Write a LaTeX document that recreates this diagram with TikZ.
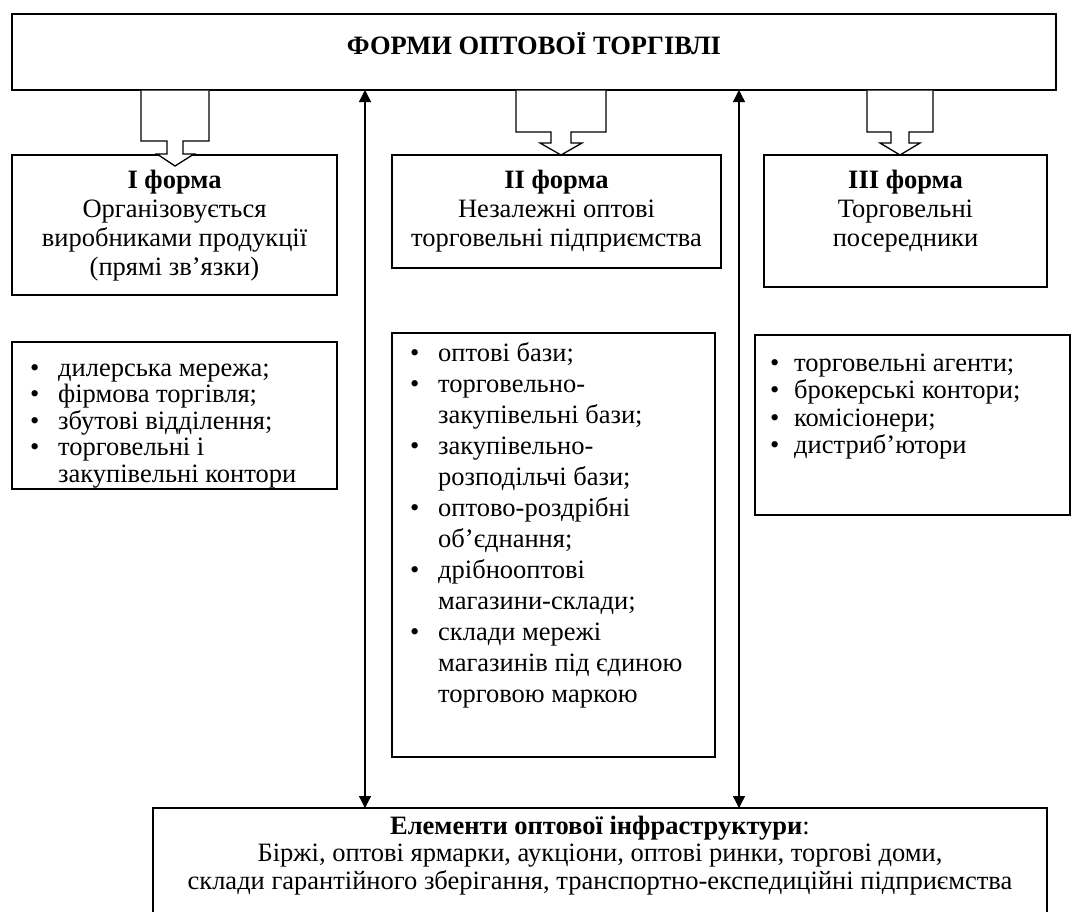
\documentclass[tikz,border=0pt]{standalone}
\usepackage{fontspec}
\setmainfont{Liberation Serif}
\usetikzlibrary{arrows.meta,calc}
\newcommand\bitem{\makebox[28pt][l]{•}}
\newcommand\bcont{\hspace*{28pt}}
\newcommand\bitemb{\makebox[24pt][l]{•}}
\begin{document}
\begin{tikzpicture}[x=1pt,y=-1pt,
  bx/.style={draw, line width=1.3pt, anchor=north west, inner sep=0pt, outer sep=0pt},
  txt/.style={font=\fontsize{26.5pt}{29pt}\selectfont, inner sep=0pt, anchor=base},
  lst/.style={font=\fontsize{26.5pt}{28pt}\selectfont, inner sep=0pt, anchor=base west},
  blk/.style={draw, line width=1.3pt, fill=white, line join=miter},
  dbl/.style={line width=1.3pt, {Triangle[length=12pt,width=12pt]}-{Triangle[length=12pt,width=12pt]}}
]
\clip (0,0) rectangle (1071,911);
\fill[white] (0,0) rectangle (1071,911);

% top box
\node[bx, minimum width=1044pt, minimum height=76pt] (top) at (12,14) {};
\node[txt] (title) at (534,54) {\textbf{ФОРМИ ОПТОВОЇ ТОРГІВЛІ}};

% form boxes
\node[bx, minimum width=325pt, minimum height=140pt] (f1) at (12,155) {};
\node[bx, minimum width=329pt, minimum height=113pt] (f2) at (392,155) {};
\node[bx, minimum width=283pt, minimum height=132pt] (f3) at (764,155) {};

\node[txt] (t1) at (f1.north |- 0,188) {\begin{tabular}[t]{@{}c@{}}\textbf{І форма}\\Організовується\\виробниками продукції\\(прямі зв’язки)\end{tabular}};
\node[txt] (t2) at (f2.north |- 0,188) {\begin{tabular}[t]{@{}c@{}}\textbf{ІІ форма}\\Незалежні оптові\\торговельні підприємства\end{tabular}};
\node[txt] (t3) at (f3.north |- 0,188) {\begin{tabular}[t]{@{}c@{}}\textbf{ІІІ форма}\\Торговельні\\посередники\end{tabular}};

% block arrows
\draw[blk] ([yshift=-0.65pt]top.south -| 141,0) -- (141,141) -- (167,141) -- (167,154) -- (157,154) -- (175,166) -- (194,154) -- (183,154) -- (183,141) -- (209,141) -- ([yshift=-0.65pt]top.south -| 209,0);
\draw[blk] ([yshift=-0.65pt]top.south -| 516,0) -- (516,132) -- (551,132) -- (551,143) -- (540,143) -- (561,155) -- (582,143) -- (571,143) -- (571,132) -- (606,132) -- ([yshift=-0.65pt]top.south -| 606,0);
\draw[blk] ([yshift=-0.65pt]top.south -| 867,0) -- (867,132) -- (891,132) -- (891,143) -- (880,143) -- (900,155) -- (920,143) -- (909,143) -- (909,132) -- (933,132) -- ([yshift=-0.65pt]top.south -| 933,0);

% list boxes
\node[bx, minimum width=325pt, minimum height=147pt] (l1) at (12,342) {};
\node[bx, minimum width=323pt, minimum height=424pt] (l2) at (392,333) {};
\node[bx, minimum width=315pt, minimum height=180pt] (l3) at (755,335) {};

\node[lst, font=\fontsize{26.5pt}{26.5pt}\selectfont] (lt1) at (30,376) {\begin{tabular}[t]{@{}l@{}}
\bitem дилерська мережа;\\
\bitem фірмова торгівля;\\
\bitem збутові відділення;\\
\bitem торговельні і\\
\bcont закупівельні контори
\end{tabular}};
\node[lst, font=\fontsize{26.5pt}{31pt}\selectfont] (lt2) at (410,361) {\begin{tabular}[t]{@{}l@{}}
\bitem оптові бази;\\
\bitem торговельно-\\
\bcont закупівельні бази;\\
\bitem закупівельно-\\
\bcont розподільчі бази;\\
\bitem оптово-роздрібні\\
\bcont об’єднання;\\
\bitem дрібнооптові\\
\bcont магазини-склади;\\
\bitem склади мережі\\
\bcont магазинів під єдиною\\
\bcont торговою маркою
\end{tabular}};
\node[lst, font=\fontsize{26.5pt}{27.5pt}\selectfont] (lt3) at (770,371) {\begin{tabular}[t]{@{}l@{}}
\bitemb торговельні агенти;\\
\bitemb брокерські контори;\\
\bitemb комісіонери;\\
\bitemb дистриб’ютори
\end{tabular}};

% bottom box
\node[bx, minimum width=894pt, minimum height=150pt] (bot) at (153,808) {};
\node[txt, font=\fontsize{26.5pt}{27.5pt}\selectfont] (tb) at (bot.north |- 0,834) {\begin{tabular}[t]{@{}c@{}}\textbf{Елементи оптової інфраструктури}:\\Біржі, оптові ярмарки, аукціони, оптові ринки, торгові доми,\\склади гарантійного зберігання, транспортно-експедиційні підприємства\end{tabular}};

% double arrows
\coordinate (a1) at (365,0);
\coordinate (a2) at (739,0);
\draw[dbl] (top.south -| a1) -- (bot.north -| a1);
\draw[dbl] (top.south -| a2) -- (bot.north -| a2);
\end{tikzpicture}
\end{document}
